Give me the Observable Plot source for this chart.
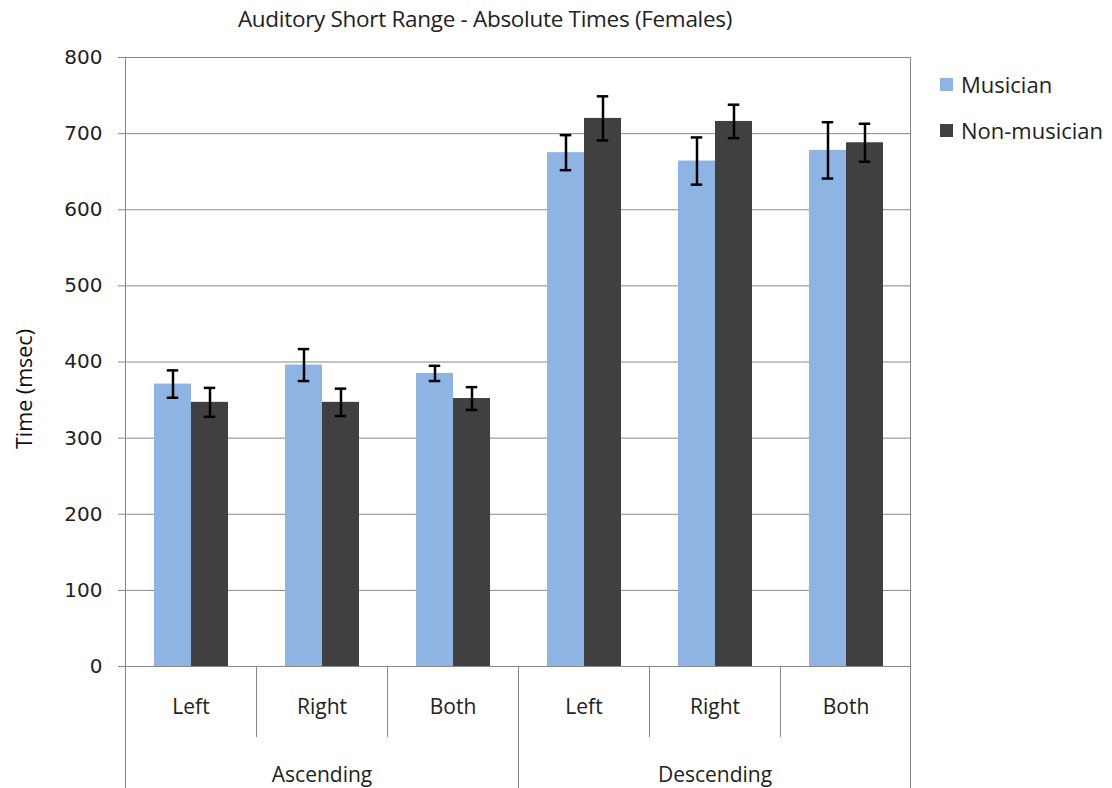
<!DOCTYPE html>
<html>
<head>
<meta charset="utf-8">
<script src="https://cdn.jsdelivr.net/npm/d3@7"></script>
<script src="https://cdn.jsdelivr.net/npm/@observablehq/plot@0.6"></script>
<style>
  html, body { margin: 0; padding: 0; background: #fff; }
  #wrap { position: relative; width: 1112px; height: 788px; overflow: hidden; font-family: "Open Sans", sans-serif; color: #222; }
  #title { height: 40px; width: 970px; text-align: center; font-size: 22.5px; line-height: 38px; color: #222; letter-spacing: -0.3px; }
  #legend { position: absolute; left: 940px; top: 70px; font-size: 22px; color: #222; }
  .lg { position: absolute; left: 0; white-space: nowrap; display: flex; align-items: center; height: 28px; }
  .sw { width: 13px; height: 13px; margin-right: 8px; display: inline-block; }
  #ylabel { position: absolute; left: 23px; top: 389px; transform: translate(-50%, -50%) rotate(-90deg); font-size: 21.5px; white-space: nowrap; color: #111; }
</style>
</head>
<body>
<div id="wrap">
  <div id="title"></div>
  <div id="chart"></div>
  <div id="legend"></div>
  <div id="ylabel"></div>
</div>
<script>
// ---- data ----
const titleText = "Auditory Short Range - Absolute Times (Females)";
const yLabel = "Time (msec)";
const directions = ["Ascending", "Descending"];
const sides = ["Left", "Right", "Both"];
const seriesNames = ["Musician", "Non-musician"];
const seriesColors = ["#8EB4E3", "#404040"];
const musicianMean = [371, 396, 385, 675, 664, 678];
const musicianErr = [18, 21, 10, 23, 31, 37];
const nonMusicianMean = [347, 347, 352, 720, 716, 688];
const nonMusicianErr = [19, 18, 15, 29, 22, 25];
const yTicks = [0, 100, 200, 300, 400, 500, 600, 700, 800];

// ---- build tables ----
const keys = directions.flatMap(d => sides.map(s => d + "|" + s));
const data = keys.flatMap((k, i) => [
  {key: k, series: seriesNames[0], mean: musicianMean[i], err: musicianErr[i]},
  {key: k, series: seriesNames[1], mean: nonMusicianMean[i], err: nonMusicianErr[i]}
]);
const sideLabels = keys.map(k => ({key: k, label: k.split("|")[1]}));
const groupLabels = directions.map(d => ({key: d + "|" + sides[1], label: d}));

document.getElementById("title").textContent = titleText;
document.getElementById("ylabel").textContent = yLabel;

const gridColor = "#888888";
const catFont = "Open Sans, sans-serif";

const chart = Plot.plot({
  width: 1112,
  height: 748,
  marginTop: 17,
  marginBottom: 122,
  marginLeft: 124,
  marginRight: 200,
  style: {background: "#fff", overflow: "visible"},
  fx: {domain: keys, padding: 0, axis: null},
  x: {domain: seriesNames, paddingInner: 0, paddingOuter: 0.75, axis: null},
  y: {domain: [0, 800], axis: null},
  color: {domain: seriesNames, range: seriesColors},
  marks: [
    Plot.gridY(yTicks, {stroke: gridColor, strokeOpacity: 1, strokeWidth: 1}),
    Plot.barY(data, {fx: "key", x: "series", y: "mean", fill: "series"}),
    Plot.ruleX(data, {fx: "key", x: "series", y1: d => d.mean - d.err, y2: d => d.mean + d.err, stroke: "#000", strokeWidth: 2.5}),
    Plot.tickY(data, {fx: "key", x: "series", y: d => d.mean - d.err, stroke: "#000", strokeWidth: 2.5, insetLeft: 12.75, insetRight: 12.75}),
    Plot.tickY(data, {fx: "key", x: "series", y: d => d.mean + d.err, stroke: "#000", strokeWidth: 2.5, insetLeft: 12.75, insetRight: 12.75}),
    Plot.axisY(yTicks, {anchor: "left", tickSize: 7, tickPadding: 16, stroke: gridColor, fill: "#222", fontSize: 20, fontFamily: "DejaVu Sans, sans-serif", label: null}),
    Plot.text(sideLabels, {fx: "key", text: "label", frameAnchor: "bottom", dy: 47, fontSize: 21, fontFamily: catFont, fill: "#222"}),
    Plot.text(groupLabels, {fx: "key", text: "label", frameAnchor: "bottom", dy: 115, fontSize: 21, fontFamily: catFont, fill: "#222"})
  ]
});
document.getElementById("chart").appendChild(chart);

// ---- axis structure lines drawn from the Plot scales ----
const fx = chart.scale("fx");
const ys = chart.scale("y");
const svg = d3.select(chart.tagName.toLowerCase() === "svg" ? chart : chart.querySelector("svg"));
const bw = fx.bandwidth;
const edge = k => fx.apply(k);
const y0 = ys.apply(0), yTop = ys.apply(800);
const svgH = 748;
const g = svg.append("g").attr("stroke", gridColor).attr("stroke-width", 1).attr("fill", "none");
const lastRight = edge(keys[keys.length - 1]) + bw;
g.append("line").attr("x1", edge(keys[0]) + 0.5).attr("x2", edge(keys[0]) + 0.5).attr("y1", yTop).attr("y2", svgH);
g.append("line").attr("x1", lastRight - 0.5).attr("x2", lastRight - 0.5).attr("y1", yTop).attr("y2", svgH);
keys.forEach((k, i) => {
  if (i === 0) return;
  const x = Math.round(edge(k)) + 0.5;
  const isGroup = i % sides.length === 0;
  g.append("line").attr("x1", x).attr("x2", x).attr("y1", y0).attr("y2", isGroup ? svgH : y0 + 71);
});

// ---- legend ----
const legend = document.getElementById("legend");
seriesNames.forEach((s, i) => {
  const row = document.createElement("div");
  row.className = "lg";
  row.style.top = (i * 46) + "px";
  const sw = document.createElement("span");
  sw.className = "sw";
  sw.style.background = seriesColors[i];
  row.appendChild(sw);
  row.appendChild(document.createTextNode(s));
  legend.appendChild(row);
});
</script>
</body>
</html>
